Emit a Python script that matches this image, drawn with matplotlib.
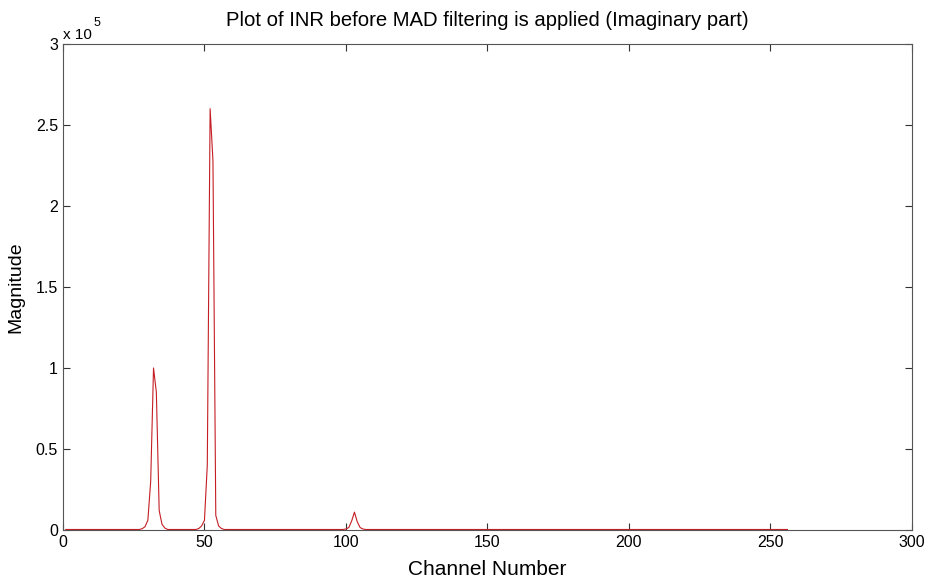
import numpy as np
import matplotlib.pyplot as plt

plt.rcParams['font.family'] = ['Liberation Sans', 'DejaVu Sans']

# channel numbers 1..256, magnitude mostly near the floor except around the peaks
n_channels = 256
floor_level = 300

peak_channels = [28, 29, 30, 31, 32, 33, 34, 35, 36,
                 48, 49, 50, 51, 52, 53, 54, 55, 56,
                 100, 101, 102, 103, 104, 105, 106]
peak_values = [800, 2000, 6000, 30000, 100000, 85000, 12000, 3500, 1200,
               900, 2500, 6000, 40000, 260000, 228000, 9000, 2500, 900,
               600, 1500, 5500, 11000, 5000, 1500, 600]

channels = np.arange(1, n_channels + 1)
magnitude = np.full(n_channels, floor_level, dtype=float)
for c, v in zip(peak_channels, peak_values):
    magnitude[c - 1] = v

fig = plt.figure(figsize=(9.3, 5.86), dpi=100)
ax = fig.add_axes([0.0677, 0.0956, 0.9129, 0.8294])

ax.plot(channels, magnitude, color='#c41e24', linewidth=0.8)

ax.set_xlim(0, 300)
ax.set_ylim(0, 3e5)
ax.set_xticks([0, 50, 100, 150, 200, 250, 300])
yt = [0, 0.5e5, 1e5, 1.5e5, 2e5, 2.5e5, 3e5]
ax.set_yticks(yt)
ax.set_yticklabels(['0', '0.5', '1', '1.5', '2', '2.5', '3'])
ax.tick_params(direction='in', top=True, right=True, labelsize=11.5, length=5, color='#333333')
for s in ax.spines.values():
    s.set_color('#555555')
    s.set_linewidth(0.8)

ax.text(0.0, 1.003, 'x 10', transform=ax.transAxes, fontsize=11, ha='left', va='bottom')
ax.text(0.036, 1.03, '5', transform=ax.transAxes, fontsize=9, ha='left', va='bottom')

ax.set_title('Plot of INR before MAD filtering is applied (Imaginary part)', fontsize=14.6, pad=13)
ax.set_xlabel('Channel Number', fontsize=15, labelpad=7)
ax.set_ylabel('Magnitude', fontsize=14, labelpad=8)

fig.savefig('out.png', dpi=100)
